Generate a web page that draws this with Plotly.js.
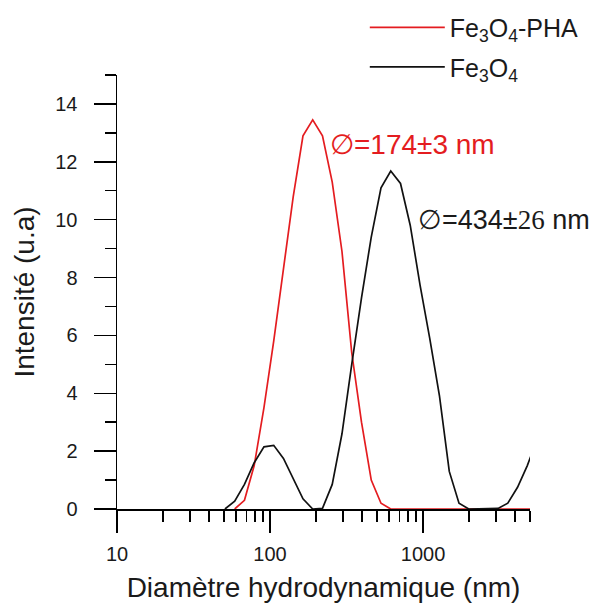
<!DOCTYPE html>
<html>
<head>
<meta charset="utf-8">
<script src="https://cdn.plot.ly/plotly-3.0.1.min.js"></script>
<style>html,body{margin:0;padding:0;background:#fff;}#chart{width:600px;height:608px;}</style>
</head>
<body>
<div id="chart"></div>
<script>
// Size classes (nm) of the DLS distribution
const sizesPHA = [58.77, 68.06, 78.82, 91.28, 105.7, 122.4, 141.8, 164.2, 190.1, 220.2, 255.0, 295.3, 342.0, 396.1, 458.7, 531.2, 615.1, 712.4, 825.0, 955.4, 1106, 1281, 1484, 1718, 1990, 2305, 2669, 3091, 3580, 4145, 4801, 5560];
const intensityPHA = [0.0, 0.3, 1.5, 3.5, 5.8, 8.3, 10.8, 12.9, 13.45, 12.9, 11.3, 8.9, 5.4, 3.0, 1.0, 0.2, 0, 0, 0, 0, 0, 0, 0, 0, 0, 0, 0, 0, 0, 0, 0, 0];

const sizesFe = [50.75, 58.77, 68.06, 78.82, 91.28, 105.7, 122.4, 141.8, 164.2, 190.1, 220.2, 255.0, 295.3, 342.0, 396.1, 458.7, 531.2, 615.1, 712.4, 825.0, 955.4, 1106, 1281, 1484, 1718, 1990, 2305, 2669, 3091, 3580, 4145, 4801, 5560];
const intensityFe = [0, 0.27, 0.85, 1.6, 2.15, 2.2, 1.75, 1.05, 0.35, 0, 0.02, 0.85, 2.6, 5.0, 7.3, 9.4, 11.1, 11.68, 11.25, 9.8, 7.75, 5.9, 3.9, 1.3, 0.2, 0, 0, 0, 0.02, 0.2, 0.75, 1.5, 2.4];

const seriesNames = ['Fe<sub>3</sub>O<sub>4</sub>-PHA', 'Fe<sub>3</sub>O<sub>4</sub>'];
const xMajorTicks = [10, 100, 1000];
const xMinorTicks = [20, 30, 40, 50, 60, 70, 80, 90, 200, 300, 400, 500, 600, 700, 800, 900, 2000, 3000, 4000, 5000];
const labelPHA = '\u2205=174\u00B13 nm';
const labelFe = '\u2205=434\u00B1<span style="font-family:\'Liberation Serif\',\'Times New Roman\',serif">26</span> nm';

const FONT = 'Arial, "Liberation Sans", sans-serif';
const RED = 'rgb(228,28,32)';
const TXT = '#1a1a1a';

const traces = [
  {x: sizesPHA, y: intensityPHA, name: seriesNames[0], type: 'scatter', mode: 'lines',
   line: {color: RED, width: 1.7}, legendgroup: 'a'},
  {x: sizesFe, y: intensityFe, name: seriesNames[1], type: 'scatter', mode: 'lines',
   line: {color: '#111', width: 1.7}, legendgroup: 'b'}
];

const layout = {
  width: 600, height: 608,
  margin: {l: 117, r: 70, t: 75, b: 99, autoexpand: false},
  paper_bgcolor: '#fff', plot_bgcolor: '#fff',
  font: {family: FONT, color: TXT, size: 20},
  showlegend: true,
  legend: {x: 0.6, xanchor: 'left', y: 1.162, yanchor: 'top', bgcolor: 'rgba(0,0,0,0)',
           font: {family: FONT, size: 25, color: TXT}, tracegroupgap: 4, itemwidth: 75},
  xaxis: {type: 'log', range: [1, Math.log10(5000)], showgrid: false, zeroline: false,
          showline: true, linecolor: '#000', linewidth: 1.5, automargin: false,
          tickmode: 'array', tickvals: xMajorTicks, ticktext: xMajorTicks.map(String),
          ticks: 'outside', ticklen: 22, tickwidth: 1.5, tickcolor: '#000',
          minor: {tickmode: 'array', tickvals: xMinorTicks, ticks: 'outside', ticklen: 11, tickwidth: 1.5, tickcolor: '#000', showgrid: false},
          tickfont: {family: FONT, size: 20, color: TXT}, ticklabelstandoff: 4,
          title: {text: 'Diamètre hydrodynamique (nm)', font: {family: FONT, size: 28, color: TXT}, standoff: 14}},
  yaxis: {range: [0, 15], showgrid: false, zeroline: false,
          showline: true, linecolor: '#000', linewidth: 1.5, automargin: false,
          tickmode: 'linear', tick0: 0, dtick: 2,
          ticks: 'outside', ticklen: 22, tickwidth: 1.5, tickcolor: '#000',
          minor: {tickmode: 'linear', tick0: 1, dtick: 2, ticks: 'outside', ticklen: 11, tickwidth: 1.5, tickcolor: '#000', showgrid: false},
          tickfont: {family: FONT, size: 20, color: TXT}, ticklabelstandoff: 12,
          title: {text: 'Intensité (u.a)', font: {family: FONT, size: 28, color: TXT}, standoff: 12}},
  annotations: [
    {xref: 'paper', yref: 'paper', x: 0.51, y: 0.839, xanchor: 'left', yanchor: 'middle',
     text: labelPHA, showarrow: false, font: {family: FONT, size: 28, color: RED}},
    {xref: 'paper', yref: 'paper', x: 0.725, y: 0.666, xanchor: 'left', yanchor: 'middle',
     text: labelFe, showarrow: false, font: {family: FONT, size: 27, color: TXT}}
  ]
};

Plotly.newPlot('chart', traces, layout, {displayModeBar: false, staticPlot: true});
</script>
</body>
</html>
